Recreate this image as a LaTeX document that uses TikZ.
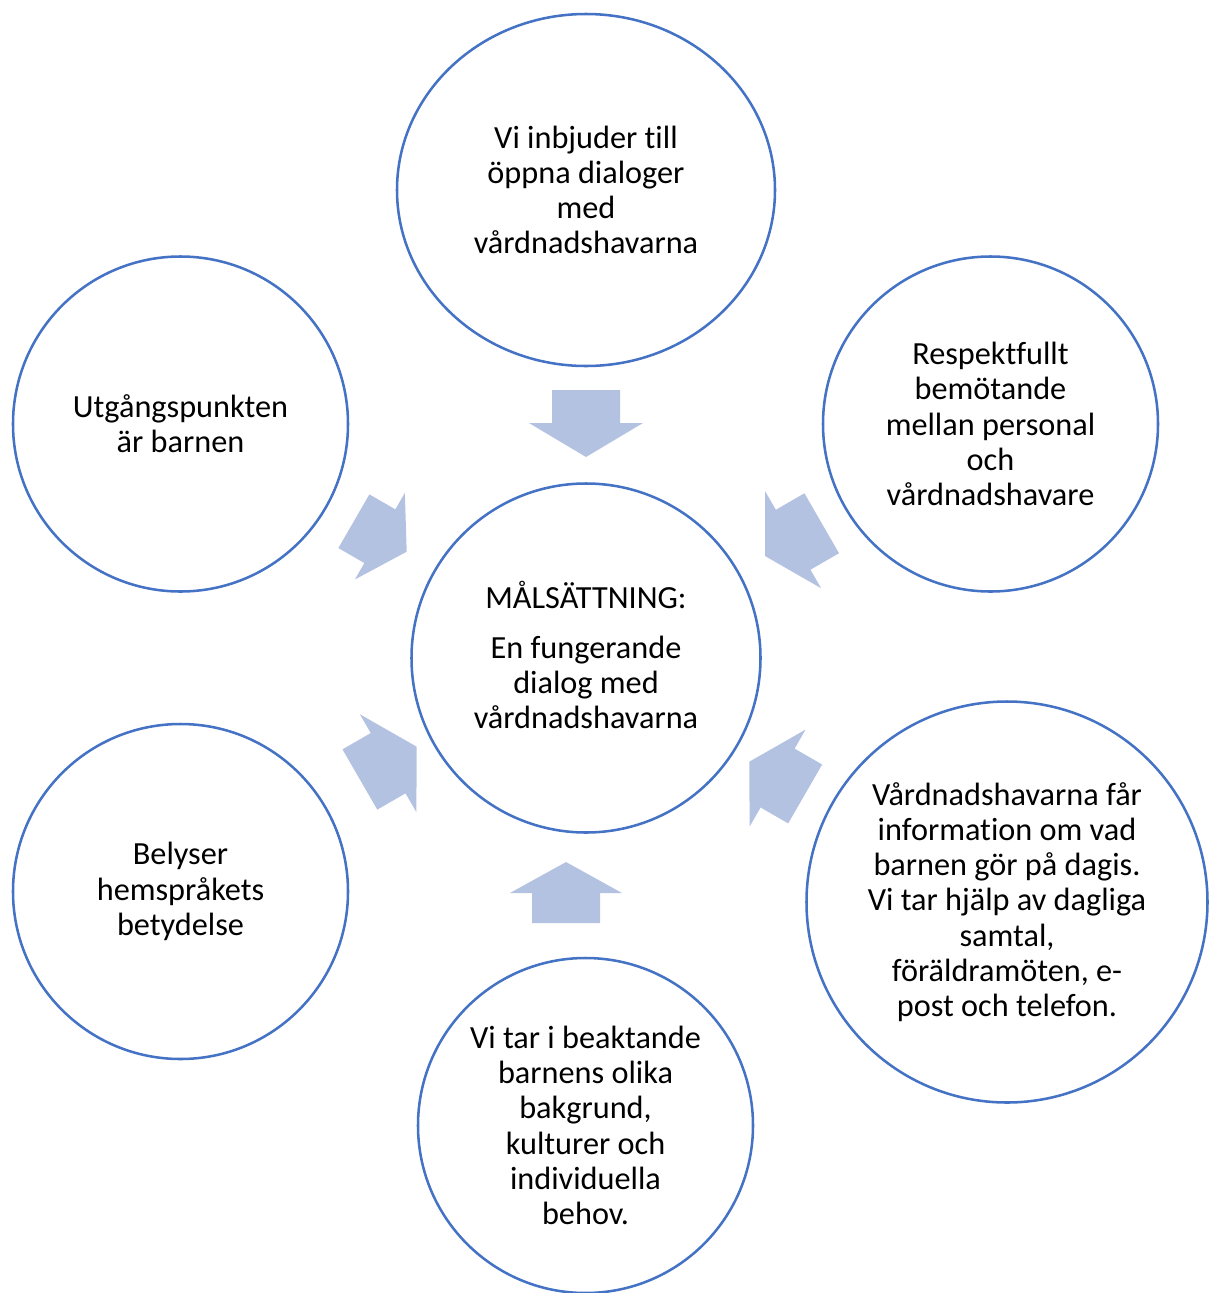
\documentclass[tikz,border=0pt]{standalone}
\usepackage{fontspec}
\setmainfont{Carlito}[Ligatures=NoCommon]
\usetikzlibrary{shapes.geometric}
\definecolor{ringblue}{RGB}{68,114,196}
\definecolor{arrowfill}{RGB}{180,194,226}
\newcommand\blockarrow[7]{% tip x, tip y, angle, head length, head half width, shaft half width, total length
  \fill[arrowfill,shift={(#1,#2)},rotate=#3]
    (0,0) -- (-#4,#5) -- (-#4,#6) -- (-#7,#6) -- (-#7,-#6) -- (-#4,-#6) -- (-#4,-#5) -- cycle;}
\begin{document}
\begin{tikzpicture}[x=0.75pt,y=-0.75pt,
  ring/.style={draw=ringblue,line width=1.9pt,circle,inner sep=0pt},
  oval/.style={draw=ringblue,line width=1.9pt,ellipse,inner sep=0pt},
  txt/.style={align=center,font=\fontsize{24.2pt}{26.4pt}\selectfont,text=black}]
\useasboundingbox (0,0) rectangle (1209,1293);
% circles
\node[oval,minimum width=378*0.75pt,minimum height=352*0.75pt] (top) at (586,190) {};
\node[ring,minimum size=349*0.75pt] (mid) at (586,658) {};
\node[ring,minimum size=335*0.75pt] (tl) at (180.5,424) {};
\node[ring,minimum size=335*0.75pt] (tr) at (990.5,424) {};
\node[ring,minimum size=335*0.75pt] (bl) at (180.5,891.5) {};
\node[ring,minimum size=401*0.75pt] (br) at (1007,902) {};
\node[ring,minimum size=335*0.75pt] (bot) at (585.5,1125.5) {};
% texts
\node[txt] (toptxt) at (top) {Vi inbjuder till\\öppna dialoger\\med\\vårdnadshavarna};
\node[txt] (tltxt) at (tl) {Utgångspunkten\\är barnen};
\node[txt] (trtxt) at (tr) {Respektfullt\\bemötande\\mellan personal\\och\\vårdnadshavare};
\node[txt] (bltxt) at (bl) {Belyser\\hemspråkets\\betydelse};
\node[txt] (brtxt) at (br) {Vårdnadshavarna får\\information om vad\\barnen gör på dagis.\\Vi tar hjälp av dagliga\\samtal,\\föräldramöten, e-\\post och telefon.};
\node[txt] (bottxt) at (bot) {Vi tar i beaktande\\barnens olika\\bakgrund,\\kulturer och\\individuella\\behov.};
\node[txt] (midtxt) at ([yshift=2.2pt]mid.center) {MÅLSÄTTNING:\\[10.5pt]En fungerande\\dialog med\\vårdnadshavarna};
% arrows
\blockarrow{586}{457}{-90}{34}{57}{34}{67}
\blockarrow{566}{862}{90}{31}{56}{34}{61}
\blockarrow{406.7}{551.7}{-30}{31}{50}{31}{61}
\blockarrow{765}{556}{-150}{32.5}{56}{34.6}{65.5}
\blockarrow{416.7}{746.7}{30}{33}{56.5}{34.8}{65.6}
\blockarrow{749.3}{761.7}{150}{32.7}{56}{34}{64.5}
\end{tikzpicture}
\end{document}
